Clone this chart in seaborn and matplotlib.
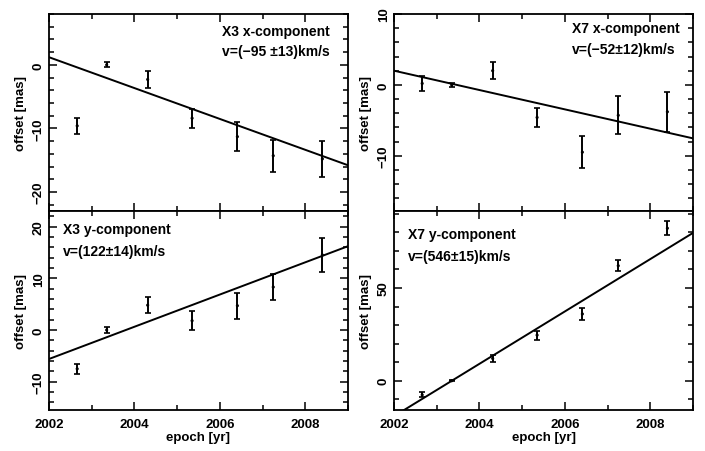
import numpy as np
import pandas as pd
import matplotlib
matplotlib.use("Agg")
import matplotlib.pyplot as plt
from matplotlib.ticker import MultipleLocator
import seaborn as sns

# epochs of the observations (same for all panels)
epoch = [2002.66, 2003.35, 2004.31, 2005.35, 2006.41, 2007.25, 2008.40]

# X3 offsets
x3_x = [-9.6, 0.0, -2.3, -8.4, -11.3, -14.3, -14.8]
x3_x_err = [1.3, 0.4, 1.4, 1.5, 2.3, 2.5, 2.8]
x3_y = [-7.5, 0.0, 4.8, 1.8, 4.7, 8.3, 14.5]
x3_y_err = [1.0, 0.5, 1.5, 1.8, 2.5, 2.5, 3.2]

# X7 offsets
x7_x = [0.2, 0.0, 2.0, -4.6, -9.5, -4.3, -3.8]
x7_x_err = [1.0, 0.3, 1.2, 1.4, 2.3, 2.7, 2.8]
x7_y = [-7.6, 0.0, 12.0, 24.6, 36.0, 62.0, 82.2]
x7_y_err = [1.4, 0.4, 1.8, 2.4, 3.0, 3.1, 3.9]

# fitted proper-motion lines (values at fit_x)
fit_x = [2002.0, 2009.0]
fit_x3_x = [1.2, -15.8]
fit_x3_y = [-5.6, 16.2]
fit_x7_x = [2.0, -7.55]
fit_x7_y = [-19.1, 79.7]

labels = ["X3 x-component", "X3 y-component", "X7 x-component", "X7 y-component"]
velocities = ["v=(\u221295 \u00b113)km/s", "v=(122\u00b114)km/s",
              "v=(\u221252\u00b112)km/s", "v=(546\u00b115)km/s"]

sns.set_theme(style="ticks")
plt.rcParams['font.family'] = ['Liberation Sans', 'DejaVu Sans']
plt.rcParams['font.weight'] = 'bold'
plt.rcParams['axes.labelweight'] = 'bold'
plt.rcParams['text.color'] = 'black'
plt.rcParams['axes.labelcolor'] = 'black'
plt.rcParams['font.size'] = 9

fig = plt.figure(figsize=(7.05, 4.52), dpi=100)

W = 299 / 705
H_top = 197 / 452
H_bot = 198.7 / 452
panels = [
    # (rect, y, err, fit, ylim, major, minor, text position, bottom row)
    ([49 / 705, 1 - 212 / 452, W, H_top], x3_x, x3_x_err, fit_x3_x, (-23, 8), 10, 2, (0.58, 0.915, 0.81), False),
    ([49 / 705, 1 - 410.7 / 452, W, H_bot], x3_y, x3_y_err, fit_x3_y, (-15.4, 23), 10, 2, (0.047, 0.91, 0.80), True),
    ([394 / 705, 1 - 212 / 452, W, H_top], x7_x, x7_x_err, fit_x7_x, (-17.8, 10), 10, 2, (0.595, 0.93, 0.822), False),
    ([394 / 705, 1 - 410.7 / 452, W, H_bot], x7_y, x7_y_err, fit_x7_y, (-15.6, 91.5), 50, 10, (0.047, 0.885, 0.775), True),
]

for i, (rect, yv, ye, fy, ylim, major, minor, tpos, bottom) in enumerate(panels):
    ax = fig.add_axes(rect)
    df = pd.DataFrame({"epoch": epoch, "offset": yv, "err": ye})
    fit = pd.DataFrame({"epoch": fit_x, "offset": fy})
    sns.lineplot(data=fit, x="epoch", y="offset", ax=ax, color="black", lw=1.4)
    ax.errorbar(df["epoch"], df["offset"], yerr=df["err"], fmt="none",
                ecolor="black", elinewidth=1.4, capsize=2, capthick=1.2)
    sns.scatterplot(data=df, x="epoch", y="offset", ax=ax, color="black",
                    s=5, edgecolor="none", zorder=3)

    ax.set_xlim(2002, 2009)
    ax.set_ylim(*ylim)
    ax.xaxis.set_major_locator(MultipleLocator(2))
    ax.xaxis.set_minor_locator(MultipleLocator(1))
    ax.yaxis.set_major_locator(MultipleLocator(major))
    ax.yaxis.set_minor_locator(MultipleLocator(minor))
    ax.tick_params(which="both", direction="in", top=True, right=True,
                   width=1.1, colors="black", labelsize=9.5)
    ax.tick_params(which="major", length=6)
    ax.tick_params(which="minor", length=3.5)
    for s in ax.spines.values():
        s.set_linewidth(1.3)
        s.set_color("black")
    for lab in ax.get_yticklabels():
        lab.set_rotation(90)
        lab.set_va("center")
    ax.tick_params(axis="y", pad=3)

    ax.set_ylabel("offset [mas]", fontsize=9.5, labelpad=4)
    if bottom:
        ax.set_xlabel("epoch [yr]", fontsize=9.5, labelpad=1)
        ax.tick_params(axis="x", pad=6)
    else:
        ax.set_xlabel("")
        ax.set_xticklabels([])

    ax.text(tpos[0], tpos[1], labels[i], transform=ax.transAxes,
            ha="left", va="center", fontsize=10)
    ax.text(tpos[0], tpos[2], velocities[i], transform=ax.transAxes,
            ha="left", va="center", fontsize=10)

fig.savefig("out.png", dpi=100)
